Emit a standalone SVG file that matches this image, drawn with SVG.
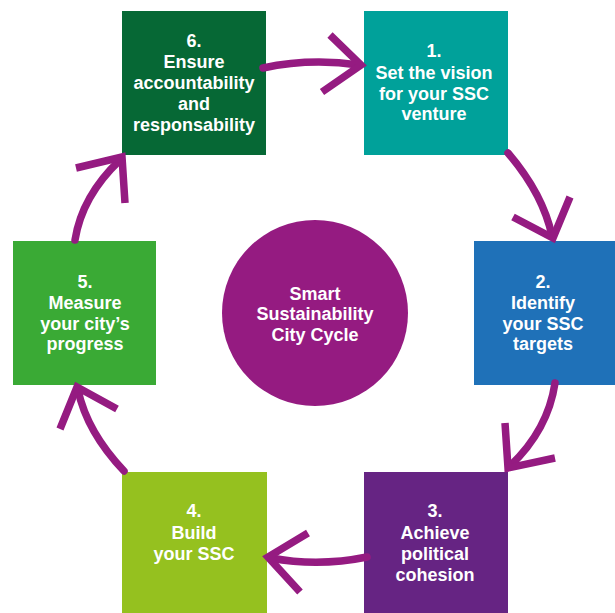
<svg xmlns="http://www.w3.org/2000/svg" width="615" height="613" viewBox="0 0 615 613">
<style>
.lbl{font-family:"Liberation Sans",Arial,sans-serif;font-weight:bold;font-size:18px;fill:#ffffff;text-anchor:middle}
.arr{fill:none;stroke:#951b81;stroke-width:7.5}
.shaft{stroke-linecap:round}
.head{stroke-linecap:butt;stroke-linejoin:miter;stroke-miterlimit:10}
</style>
<rect width="615" height="613" fill="#ffffff"/>
<g id="node6">
<rect x="122" y="11" width="144" height="144" fill="#066835"/>
<text class="lbl" x="194" y="47">6.</text>
<text class="lbl" x="194" y="68">Ensure</text>
<text class="lbl" x="194" y="89">accountability</text>
<text class="lbl" x="194" y="110">and</text>
<text class="lbl" x="194" y="131">responsability</text>
</g>
<g id="node1">
<rect x="364" y="11" width="144" height="144" fill="#00a19a"/>
<text class="lbl" x="434" y="57">1.</text>
<text class="lbl" x="434" y="79">Set the vision</text>
<text class="lbl" x="434" y="100">for your SSC</text>
<text class="lbl" x="434" y="120">venture</text>
</g>
<g id="node2">
<rect x="474" y="241" width="141" height="144" fill="#1f71b8"/>
<text class="lbl" x="543" y="288">2.</text>
<text class="lbl" x="543" y="309">Identify</text>
<text class="lbl" x="543" y="330">your SSC</text>
<text class="lbl" x="543" y="350">targets</text>
</g>
<g id="node3">
<rect x="364" y="472" width="144" height="141" fill="#662483"/>
<text class="lbl" x="435" y="517">3.</text>
<text class="lbl" x="435" y="539">Achieve</text>
<text class="lbl" x="435" y="560">political</text>
<text class="lbl" x="435" y="581">cohesion</text>
</g>
<g id="node4">
<rect x="122" y="472" width="145" height="141" fill="#95c11f"/>
<text class="lbl" x="194" y="517">4.</text>
<text class="lbl" x="194" y="539">Build</text>
<text class="lbl" x="194" y="560">your SSC</text>
</g>
<g id="node5">
<rect x="13" y="241" width="143" height="144" fill="#3aaa35"/>
<text class="lbl" x="85" y="288">5.</text>
<text class="lbl" x="85" y="309">Measure</text>
<text class="lbl" x="85" y="330">your city’s</text>
<text class="lbl" x="85" y="350">progress</text>
</g>
<g id="center">
<circle cx="315" cy="313" r="93" fill="#951b81"/>
<text class="lbl" x="315" y="300">Smart</text>
<text class="lbl" x="315" y="320">Sustainability</text>
<text class="lbl" x="315" y="341">City Cycle</text>
</g>
<g id="connectors">
<path class="arr shaft" d="M263,68 Q310,58 359,65"/>
<path class="arr head" d="M330,35 L361,65 L322,92"/>
<path class="arr shaft" d="M508,153 Q543,194 552,236"/>
<path class="arr head" d="M513,217 L553,238 L570,197"/>
<path class="arr shaft" d="M555,383 Q548,430 510,466"/>
<path class="arr head" d="M505,423 L508,468 L555,458"/>
<path class="arr shaft" d="M367,557 Q318,567 271,558"/>
<path class="arr head" d="M308,533 L268,557 L300,592"/>
<path class="arr shaft" d="M124,471 Q87,432 78,390"/>
<path class="arr head" d="M117,409 L77,387 L60,429"/>
<path class="arr shaft" d="M75,240 Q82,196 120,160"/>
<path class="arr head" d="M125,203 L122,157 L76,168"/>
</g>
</svg>
